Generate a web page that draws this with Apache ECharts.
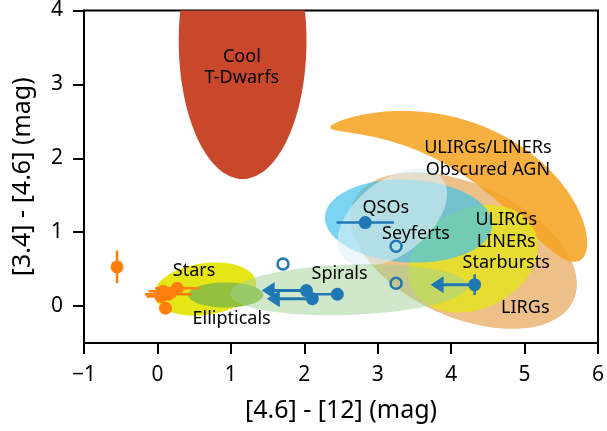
<!DOCTYPE html>
<html>
<head>
<meta charset="utf-8">
<script src="https://cdn.jsdelivr.net/npm/echarts@6/dist/echarts.min.js"></script>
<style>
  html, body { margin: 0; padding: 0; background: #fff; }
  #chart { width: 607px; height: 431px; }
</style>
</head>
<body>
<div id="chart"></div>
<script>
// Source classes in the WISE colour-colour plane, listed in drawing order.
// Each is an ellipse: centre, semi-axes (mag), tilt (degrees); a non-zero bend
// radius curves the long axis along a circular arc, and a taper widens one end.
const regionNames = ['Cool T-Dwarfs', 'LIRGs', 'Obscured AGN', 'Starbursts', 'QSOs', 'Seyferts', 'Stars', 'Ellipticals', 'Spirals'];
const regionX     = [1.16, 4.17, 4.35, 4.30, 3.42, 3.20, 0.65, 0.93, 2.61];
const regionY     = [3.59, 0.75, 2.08, 0.64, 1.15, 1.20, 0.23, 0.15, 0.22];
const regionSemiX = [0.87, 1.64, 2.06, 0.92, 1.14, 0.86, 0.70, 0.51, 1.62];
const regionSemiY = [1.87, 0.90, 0.36, 0.68, 0.56, 0.50, 0.35, 0.17, 0.34];
const regionTilt  = [0, -24, -28, 25, -3, 38, 8, 0, 2];
const regionBend  = [0, 0, 3.2, 0, 0, 0, 0, 0, 0];
const regionTaper = [0, 0, 0.5, 0, 0, 0, 0, 0, 0];

// Region captions and where they sit
const captionText = ['Cool\nT-Dwarfs', 'ULIRGs/LINERs\nObscured AGN', 'QSOs', 'Seyferts', 'ULIRGs\nLINERs\nStarbursts', 'LIRGs', 'Spirals', 'Stars', 'Ellipticals'];
const captionX    = [1.15, 4.50, 3.11, 3.52, 4.75, 5.01, 2.48, 0.50, 1.01];
const captionY    = [3.23, 1.99, 1.33, 0.98, 0.87, -0.03, 0.43, 0.47, -0.18];

// Stellar sources (orange) with errors
const starX    = [-0.55, 0.08, 0.27, 0.15, 0.05, 0.11];
const starY    = [0.53, 0.20, 0.24, 0.16, 0.13, -0.03];
const starXErr = [0, 0.20, 0.30, 0.32, 0.20, 0];
const starYErr = [0.22, 0, 0, 0, 0, 0];

// Galaxies (blue, filled): errors, one-sided errors and upper limits in [4.6]-[12]
const galX        = [2.83, 4.32, 2.03, 2.11, 2.45];
const galY        = [1.13, 0.29, 0.21, 0.10, 0.16];
const galXErrLow  = [0.39, 0, 0, 0, 0.42];
const galXErrHigh = [0.39, 0, 0, 0, 0];
const galYErr     = [0, 0.14, 0, 0, 0];
const galLimit    = [0, 0.60, 0.61, 0.62, 0];

// Galaxies (blue, open)
const openX = [1.71, 3.25, 3.25];
const openY = [0.57, 0.81, 0.31];

// Axis ticks
const xTicks = [-1, 0, 1, 2, 3, 4, 5, 6];
const yTicks = [0, 1, 2, 3, 4];

const regionFill = {
  'Cool T-Dwarfs': '#c9472a',
  'LIRGs': 'rgba(223,150,57,0.6)',
  'Obscured AGN': 'rgba(246,162,30,0.85)',
  'Starbursts': 'rgba(229,225,35,0.85)',
  'QSOs': 'rgba(65,194,236,0.7)',
  'Seyferts': 'rgba(222,241,246,0.6)',
  'Stars': '#e6e617',
  'Ellipticals': '#93c13f',
  'Spirals': 'rgba(159,209,147,0.5)'
};
const ORANGE = '#ff7f0e';
const BLUE = '#1f77b4';
const FONT = 'Noto Sans';

function clipTo(params) {
  const c = params.coordSys;
  return { type: 'rect', shape: { x: c.x, y: c.y, width: c.width, height: c.height } };
}

// Point on a (possibly bent, tapered) ellipse, in data units
function outlinePoint(cx, cy, a, b, tilt, bend, taper, u) {
  const s = a * Math.cos(u), w = b * Math.sin(u) * (1 + taper * Math.cos(u));
  const tx = Math.cos(tilt), ty = Math.sin(tilt), nx = -ty, ny = tx;
  if (!bend) return [cx + s * tx + w * nx, cy + s * ty + w * ny];
  const phi = s / bend, r = bend + w;
  const ox = cx - bend * nx, oy = cy - bend * ny;
  return [ox + r * (nx * Math.cos(phi) + tx * Math.sin(phi)), oy + r * (ny * Math.cos(phi) + ty * Math.sin(phi))];
}

function renderRegion(params, api) {
  const cx = api.value(0), cy = api.value(1), a = api.value(2), b = api.value(3);
  const tilt = api.value(4) * Math.PI / 180, bend = api.value(5), taper = api.value(6);
  const pts = [];
  const n = 180;
  for (let k = 0; k < n; k++) {
    pts.push(api.coord(outlinePoint(cx, cy, a, b, tilt, bend, taper, 2 * Math.PI * k / n)));
  }
  return {
    type: 'group',
    clipPath: clipTo(params),
    children: [{ type: 'polygon', shape: { points: pts }, style: { fill: regionFill[regionNames[params.dataIndex]] } }]
  };
}

function errorLines(api, x, y, xl, xh, ye, color) {
  const out = [];
  if (xl || xh) {
    const p0 = api.coord([x - xl, y]), p1 = api.coord([x + xh, y]);
    out.push({ type: 'line', shape: { x1: p0[0], y1: p0[1], x2: p1[0], y2: p1[1] }, style: { stroke: color, lineWidth: 2.5 } });
  }
  if (ye) {
    const p0 = api.coord([x, y - ye]), p1 = api.coord([x, y + ye]);
    out.push({ type: 'line', shape: { x1: p0[0], y1: p0[1], x2: p1[0], y2: p1[1] }, style: { stroke: color, lineWidth: 2.5 } });
  }
  return out;
}

function renderStarErr(params, api) {
  const e = api.value(2), ye = api.value(3);
  return { type: 'group', children: errorLines(api, api.value(0), api.value(1), e, e, ye, ORANGE) };
}

function renderGalErr(params, api) {
  const x = api.value(0), y = api.value(1);
  const children = errorLines(api, x, y, api.value(2), api.value(3), api.value(4), BLUE);
  const lim = api.value(5);
  if (lim) {
    const p0 = api.coord([x, y]), tip = api.coord([x - lim, y]);
    const headLen = 13, headHalf = 8.5;
    children.push({ type: 'line', shape: { x1: p0[0], y1: p0[1], x2: tip[0] + headLen - 1, y2: tip[1] }, style: { stroke: BLUE, lineWidth: 3 } });
    children.push({ type: 'polygon', shape: { points: [[tip[0], tip[1]], [tip[0] + headLen, tip[1] - headHalf], [tip[0] + headLen, tip[1] + headHalf]] }, style: { fill: BLUE } });
  }
  return { type: 'group', children };
}

function renderCaption(params, api) {
  const p = api.coord([api.value(0), api.value(1)]);
  return {
    type: 'text',
    x: p[0], y: p[1],
    style: {
      text: captionText[params.dataIndex],
      fill: '#000', font: '18px "' + FONT + '"',
      align: 'center', verticalAlign: 'middle', lineHeight: 21.5
    }
  };
}

const regionData = regionNames.map((n, i) => [regionX[i], regionY[i], regionSemiX[i], regionSemiY[i], regionTilt[i], regionBend[i], regionTaper[i]]);
const starErrData = starX.map((x, i) => [x, starY[i], starXErr[i], starYErr[i]]);
const galErrData = galX.map((x, i) => [x, galY[i], galXErrLow[i], galXErrHigh[i], galYErr[i], galLimit[i]]);
const captionData = captionText.map((t, i) => [captionX[i], captionY[i]]);

const chart = echarts.init(document.getElementById('chart'), null, { renderer: 'canvas' });
chart.setOption({
  animation: false,
  backgroundColor: '#fff',
  grid: { left: 84, right: 6, top: 10, bottom: 88, show: true, borderColor: '#000', borderWidth: 2, backgroundColor: 'transparent' },
  xAxis: {
    type: 'value', min: -1, max: 6, interval: 1,
    name: '[4.6] - [12] (mag)', nameLocation: 'middle', nameGap: 55,
    nameTextStyle: { fontFamily: FONT, fontSize: 25, color: '#000' },
    axisLine: { show: true, onZero: false, lineStyle: { color: '#000', width: 2 } },
    axisTick: { show: true, length: 11, lineStyle: { color: '#000', width: 2 }, customValues: xTicks },
    axisLabel: { fontFamily: FONT, fontSize: 21, color: '#000', margin: 22, customValues: xTicks,
      formatter: v => (v < 0 ? '\u2212' + Math.abs(v) : String(v)) },
    splitLine: { show: false }
  },
  yAxis: {
    type: 'value', min: -0.5, max: 4,
    name: '[3.4] - [4.6] (mag)', nameLocation: 'middle', nameGap: 49, nameRotate: 90,
    nameTextStyle: { fontFamily: FONT, fontSize: 25, color: '#000' },
    axisLine: { show: true, onZero: false, lineStyle: { color: '#000', width: 2 } },
    axisTick: { show: true, length: 11, lineStyle: { color: '#000', width: 2 }, customValues: yTicks },
    axisLabel: { fontFamily: FONT, fontSize: 21, color: '#000', margin: 21, customValues: yTicks },
    splitLine: { show: false }
  },
  series: [
    { type: 'custom', renderItem: renderRegion, data: regionData, z: 1, silent: true },
    { type: 'custom', renderItem: renderCaption, data: captionData, z: 2, silent: true },
    { type: 'custom', renderItem: renderStarErr, data: starErrData, z: 3, silent: true },
    { type: 'scatter', data: starX.map((x, i) => [x, starY[i]]), symbol: 'circle', symbolSize: 13,
      itemStyle: { color: ORANGE, opacity: 1 }, z: 4, silent: true },
    { type: 'custom', renderItem: renderGalErr, data: galErrData, z: 5, silent: true },
    { type: 'scatter', data: galX.map((x, i) => [x, galY[i]]), symbol: 'circle', symbolSize: 13,
      itemStyle: { color: BLUE, opacity: 1 }, z: 6, silent: true },
    { type: 'scatter', data: openX.map((x, i) => [x, openY[i]]), symbol: 'circle', symbolSize: 11,
      itemStyle: { color: 'rgba(0,0,0,0)', borderColor: BLUE, borderWidth: 2.5, opacity: 1 }, z: 6, silent: true }
  ]
});
</script>
</body>
</html>
